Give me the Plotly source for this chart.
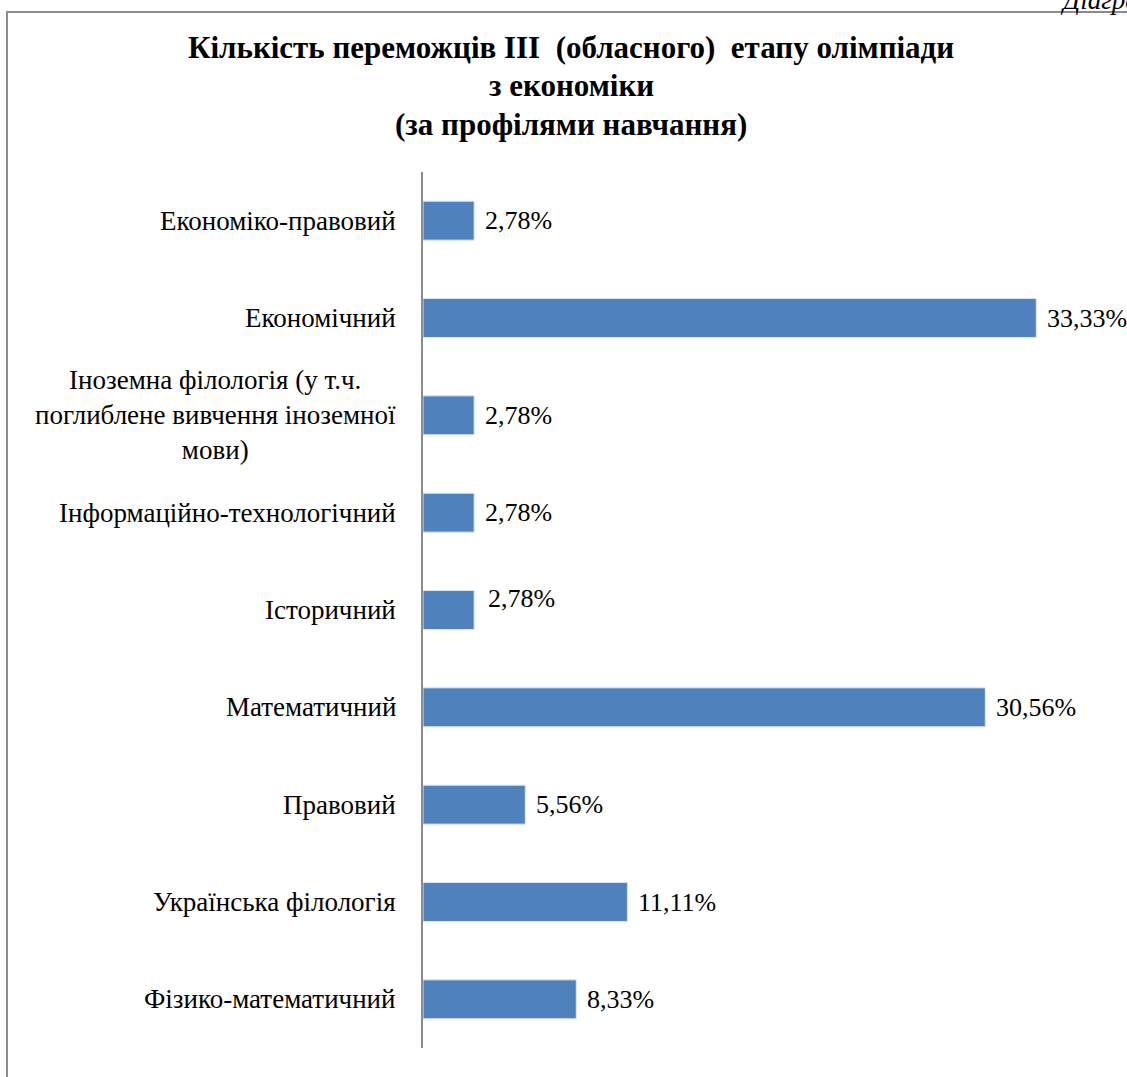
import plotly.graph_objects as go

# Profiles of study (top to bottom) and share of winners, %
categories = [
    "Економіко-правовий",
    "Економічний",
    "Іноземна філологія (у т.ч.<br>поглиблене вивчення іноземної<br>мови)",
    "Інформаційно-технологічний",
    "Історичний",
    "Математичний",
    "Правовий",
    "Українська філологія",
    "Фізико-математичний",
]
values = [2.78, 33.33, 2.78, 2.78, 2.78, 30.56, 5.56, 11.11, 8.33]
value_labels = ["2,78%", "33,33%", "2,78%", "2,78%", "2,78%", "30,56%", "5,56%", "11,11%", "8,33%"]
title_lines = [
    "Кількість переможців ІІІ  (обласного)  етапу олімпіади",
    "з економіки",
    "(за профілями навчання)",
]

W, H = 1127, 1077
ML, MR, MT, MB = 423, 60, 172, 29
PW, PH = W - ML - MR, H - MT - MB

SERIF = "Liberation Serif"
BAR = "#4F81BD"


def px_x(px):
    return (px - ML) / PW


def px_y(py):
    return (H - MB - py) / PH


fig = go.Figure()
fig.add_trace(go.Bar(
    y=categories,
    x=values,
    orientation="h",
    width=0.4,
    marker=dict(color=BAR, line=dict(color="#DCE6F2", width=1)),
    hoverinfo="skip",
))

# the label of the "Історичний" bar sits slightly up and right
label_nudge = {4: (3, 12)}

# value labels next to bars
for i, (cat, v, lab) in enumerate(zip(categories, values, value_labels)):
    dx, dy = label_nudge.get(i, (0, 0))
    fig.add_annotation(
        x=v, y=cat, xref="x", yref="y", text=lab, showarrow=False,
        xanchor="left", yanchor="middle", xshift=9 + dx, yshift=dy,
        font=dict(family=SERIF, size=26, color="black"),
    )
# category labels left of the axis
for cat in categories:
    fig.add_annotation(
        x=0, y=cat, xref="paper", yref="y", text=cat, showarrow=False,
        xanchor="right", yanchor="middle", xshift=-25, align="center",
        font=dict(family=SERIF, size=27, color="black"),
    )
# chart title, one line at a time
for k, line in enumerate(title_lines):
    fig.add_annotation(
        x=px_x(571), y=px_y(48 + 38 * k), xref="paper", yref="paper",
        text="<b>" + line + "</b>", showarrow=False,
        xanchor="center", yanchor="middle",
        font=dict(family=SERIF, size=31, color="black"),
    )
# caption cut at the page top
fig.add_annotation(
    x=px_x(1058), y=px_y(0), xref="paper", yref="paper",
    text="<i>Діаграма</i>", showarrow=False, xanchor="left", yanchor="middle",
    font=dict(family=SERIF, size=27, color="black"),
)

fig.update_layout(
    width=W, height=H,
    margin=dict(l=ML, r=MR, t=MT, b=MB),
    font=dict(family=SERIF, color="black"),
    paper_bgcolor="white", plot_bgcolor="white",
    showlegend=False,
    bargap=0.6,
    xaxis=dict(range=[0, 35], visible=False, fixedrange=True),
    yaxis=dict(
        autorange="reversed", showticklabels=False, ticks="",
        showline=True, linecolor="#8C8C8C", linewidth=2, showgrid=False,
        zeroline=False,
    ),
    shapes=[dict(
        type="rect", xref="paper", yref="paper",
        x0=px_x(7), x1=px_x(1140), y0=px_y(12), y1=px_y(1090),
        line=dict(color="#8C8C8C", width=2), fillcolor="rgba(0,0,0,0)", layer="below",
    )],
)

fig.write_html("out.html")
